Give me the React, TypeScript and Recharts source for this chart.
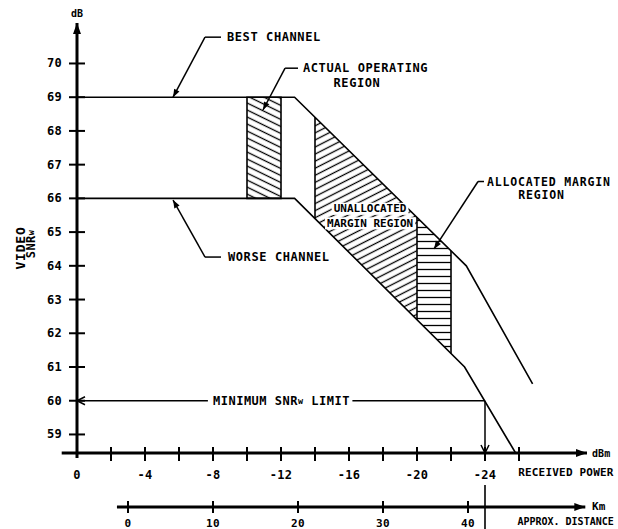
import React from 'react';
import {
  ComposedChart,
  Line,
  Area,
  XAxis,
  YAxis,
  ReferenceLine,
  ReferenceArea,
  ReferenceDot,
} from 'recharts';

// video SNRw (dB) against received power (dBm)
const bestChannel = [
  { power: 0, snr: 69 },
  { power: -12.8, snr: 69 },
  { power: -22.9, snr: 64 },
  { power: -26.8, snr: 60.5 },
];
const worseChannel = [
  { power: 0, snr: 66 },
  { power: -12.8, snr: 66 },
  { power: -22.8, snr: 61 },
  { power: -25.8, snr: 58.45 },
];
// [worse, best] at the edges of the margin regions
const unallocatedBand = [
  { power: -14, band: [65.4, 68.41] },
  { power: -20, band: [62.4, 65.44] },
];
const allocatedBand = [
  { power: -20, band: [62.4, 65.44] },
  { power: -22, band: [61.4, 64.45] },
];
const operatingRegion = { from: -10, to: -12, low: 66, high: 69 };
const minSnr = 60;
const minSnrPower = -24;

const snrTicks = [59, 60, 61, 62, 63, 64, 65, 66, 67, 68, 69, 70];
const powerTicks = [0, -2, -4, -6, -8, -10, -12, -14, -16, -18, -20, -22, -24, -26];
const powerLabels = [0, -4, -8, -12, -16, -20, -24];
const kmTicks = [0, 10, 20, 30, 40];
const distanceMarks = kmTicks.map((km) => ({ km }));

const SNR_DOMAIN = [58.45, 71.2];
const POWER_DOMAIN = [-30, 0];
const KM_DOMAIN = [-6, 54];

const INK = '#000';
const FONT = '"DejaVu Sans Mono", "Liberation Mono", monospace';

const font = (size: number, spacing = 0) => ({
  fontFamily: FONT,
  fontWeight: 700,
  fontSize: size,
  letterSpacing: spacing,
  fill: INK,
});

type Head = 'none' | 'solid' | 'open';

function arrowHead(x: number, y: number, fx: number, fy: number, kind: Head, len: number, half: number) {
  const a = Math.atan2(y - fy, x - fx);
  const bx = x - len * Math.cos(a);
  const by = y - len * Math.sin(a);
  const px = -Math.sin(a) * half;
  const py = Math.cos(a) * half;
  const pts = `${bx + px},${by + py} ${x},${y} ${bx - px},${by - py}`;
  return kind === 'open' ? (
    <polyline points={pts} fill="none" stroke={INK} strokeWidth={1.5} />
  ) : (
    <polygon points={pts} fill={INK} />
  );
}

const arrowLine =
  (width: number, end: Head = 'none', start: Head = 'none', len = 9, half = 3.5) =>
  (p: any) => (
    <g>
      <line x1={p.x1} y1={p.y1} x2={p.x2} y2={p.y2} stroke={INK} strokeWidth={width} />
      {end !== 'none' && arrowHead(p.x2, p.y2, p.x1, p.y1, end, len, half)}
      {start !== 'none' && arrowHead(p.x1, p.y1, p.x2, p.y2, start, len, half)}
    </g>
  );

// "SNRw" gets a small w
function withSub(text: string) {
  const parts = text.split('SNRw');
  const out: React.ReactNode[] = [parts[0]];
  for (let i = 1; i < parts.length; i++) {
    out.push('SNR', <tspan key={i} fontSize="0.7em">w</tspan>, parts[i]);
  }
  return out;
}

const note =
  (text: string, anchor: 'start' | 'middle' | 'end' = 'start', size = 12, spacing = 0.6, boxed = false) =>
  (p: any) => {
    const w = text.length * (size * 0.602 + spacing) + 4;
    const left = anchor === 'start' ? p.cx - 2 : anchor === 'middle' ? p.cx - w / 2 : p.cx - w + 2;
    return (
      <g>
        {boxed && <rect x={left} y={p.cy - size * 0.55} width={w} height={size * 1.1} fill="#fff" />}
        <text x={p.cx} y={p.cy} textAnchor={anchor} dominantBaseline="central" {...font(size, spacing)}>
          {withSub(text)}
        </text>
      </g>
    );
  };

function SnrTick({ x, y, payload }: any) {
  return (
    <g>
      <line x1={x - 8} x2={x + 8} y1={y} y2={y} stroke={INK} strokeWidth={2} />
      <text x={x - 15} y={y} textAnchor="end" dominantBaseline="central" {...font(12, 0.3)}>
        {payload.value}
      </text>
    </g>
  );
}

function PowerTick({ x, y, payload }: any) {
  const v = payload.value;
  return (
    <g>
      {v !== 0 && <line x1={x} x2={x} y1={y - 6} y2={y + 8} stroke={INK} strokeWidth={2} />}
      {powerLabels.includes(v) && (
        <text x={x} y={y + 22} textAnchor="middle" dominantBaseline="central" {...font(12, 0.3)}>
          {v === 0 ? '0' : `-${-v}`}
        </text>
      )}
    </g>
  );
}

function KmTick({ x, y, payload }: any) {
  return (
    <g>
      <line x1={x} x2={x} y1={y - 6} y2={y + 6} stroke={INK} strokeWidth={2} />
      <text x={x} y={y + 16} textAnchor="middle" dominantBaseline="central" {...font(11, 0.3)}>
        {payload.value}
      </text>
    </g>
  );
}

function AxisTitle({ viewBox }: any) {
  const { x, y } = viewBox;
  return (
    <g>
      <text transform={`translate(${x + 20},${y + 225}) rotate(-90)`} textAnchor="middle" dominantBaseline="central" {...font(13, 0.8)}>
        VIDEO
      </text>
      <text transform={`translate(${x + 31},${y + 221}) rotate(-90)`} textAnchor="middle" dominantBaseline="central" {...font(12, 0.4)}>
        {withSub('SNRw')}
      </text>
    </g>
  );
}

export default function App() {
  return (
    <div style={{ position: 'absolute', left: 0, top: 0, width: 618, height: 529, background: '#fff' }}>
      <ComposedChart
        width={618}
        height={529}
        data={distanceMarks}
        margin={{ top: 23, right: 31, bottom: 0, left: 0 }}
      >
        <defs>
          <pattern id="hatchDown" patternUnits="userSpaceOnUse" width={10} height={6.3} patternTransform="rotate(26)">
            <line x1={0} y1={3.15} x2={10} y2={3.15} stroke={INK} strokeWidth={1.3} />
          </pattern>
          <pattern id="hatchUp" patternUnits="userSpaceOnUse" width={10} height={6.3} patternTransform="rotate(-27)">
            <line x1={0} y1={3.15} x2={10} y2={3.15} stroke={INK} strokeWidth={1.3} />
          </pattern>
          <pattern id="hatchFlat" patternUnits="userSpaceOnUse" width={10} height={7}>
            <line x1={0} y1={3.5} x2={10} y2={3.5} stroke={INK} strokeWidth={1.3} />
          </pattern>
        </defs>

        <XAxis
          dataKey="power"
          type="number"
          domain={POWER_DOMAIN}
          reversed
          allowDataOverflow
          ticks={powerTicks}
          interval={0}
          tick={<PowerTick />}
          tickLine={false}
          axisLine={false}
          tickSize={0}
          tickMargin={0}
          height={54}
        />
        <XAxis
          xAxisId="km"
          dataKey="km"
          type="number"
          domain={KM_DOMAIN}
          allowDataOverflow
          ticks={kmTicks}
          interval={0}
          tick={<KmTick />}
          tickLine={false}
          axisLine={false}
          tickSize={0}
          tickMargin={0}
          height={22}
        />
        <YAxis
          type="number"
          domain={SNR_DOMAIN}
          allowDataOverflow
          ticks={snrTicks}
          interval={0}
          tick={<SnrTick />}
          tickLine={false}
          axisLine={false}
          tickSize={0}
          tickMargin={0}
          width={77}
          label={<AxisTitle />}
        />

        {/* hatched regions */}
        <ReferenceArea
          x1={operatingRegion.from}
          x2={operatingRegion.to}
          y1={operatingRegion.low}
          y2={operatingRegion.high}
          fill="url(#hatchDown)"
          fillOpacity={1}
          stroke={INK}
          strokeWidth={1.6}
        />
        <Area data={unallocatedBand} dataKey="band" type="linear" stroke="none" fill="url(#hatchUp)" fillOpacity={1} dot={false} activeDot={false} isAnimationActive={false} />
        <Area data={allocatedBand} dataKey="band" type="linear" stroke="none" fill="url(#hatchFlat)" fillOpacity={1} dot={false} activeDot={false} isAnimationActive={false} />
        {[...unallocatedBand, allocatedBand[1]].map((d) => (
          <ReferenceLine
            key={d.power}
            segment={[{ x: d.power, y: d.band[0] }, { x: d.power, y: d.band[1] }]}
            shape={arrowLine(1.6)}
          />
        ))}

        <Line data={bestChannel} dataKey="snr" type="linear" stroke={INK} strokeWidth={1.6} dot={false} activeDot={false} isAnimationActive={false} />
        <Line data={worseChannel} dataKey="snr" type="linear" stroke={INK} strokeWidth={1.6} dot={false} activeDot={false} isAnimationActive={false} />

        {/* axes with arrow tips */}
        <ReferenceLine segment={[{ x: 0, y: 58.3 }, { x: 0, y: 71.2 }]} ifOverflow="visible" shape={arrowLine(3, 'solid', 'none', 11, 4)} />
        <ReferenceLine segment={[{ x: 0.9, y: 58.45 }, { x: -30, y: 58.45 }]} ifOverflow="visible" shape={arrowLine(3, 'solid', 'none', 11, 4)} />
        <ReferenceLine xAxisId="km" segment={[{ x: -1.3, y: 56.85 }, { x: 53.8, y: 56.85 }]} ifOverflow="visible" shape={arrowLine(3, 'solid', 'none', 11, 4)} />
        <ReferenceLine segment={[{ x: minSnrPower, y: 57.5 }, { x: minSnrPower, y: 56.15 }]} ifOverflow="visible" shape={arrowLine(1.6)} />

        <ReferenceDot x={0} y={71.47} r={0} ifOverflow="visible" shape={note('dB', 'middle', 10, 0)} />
        <ReferenceDot x={-30.3} y={58.45} r={0} ifOverflow="visible" shape={note('dBm', 'start', 10, 0)} />
        <ReferenceDot x={-28.76} y={57.86} r={0} ifOverflow="visible" shape={note('RECEIVED POWER', 'middle', 11, 0.2)} />
        <ReferenceDot x={-30.3} y={56.85} r={0} ifOverflow="visible" shape={note('Km', 'start', 11, 0)} />
        <ReferenceDot x={-28.74} y={56.405} r={0} ifOverflow="visible" shape={note('APPROX. DISTANCE', 'middle', 10, 0)} />

        {/* minimum SNR limit */}
        <ReferenceLine segment={[{ x: 0, y: minSnr }, { x: -7.7, y: minSnr }]} shape={arrowLine(1.5, 'none', 'open', 8, 4)} />
        <ReferenceDot x={-8.0} y={minSnr} r={0} ifOverflow="visible" shape={note('MINIMUM SNRw LIMIT', 'start', 12, 0.5)} />
        <ReferenceLine segment={[{ x: -16.2, y: minSnr }, { x: minSnrPower, y: minSnr }]} shape={arrowLine(1.5)} />
        <ReferenceLine segment={[{ x: minSnrPower, y: minSnr }, { x: minSnrPower, y: 58.45 }]} shape={arrowLine(1.5, 'open', 'none', 8, 4)} />

        {/* callouts */}
        <ReferenceLine segment={[{ x: -7.53, y: 70.78 }, { x: -8.47, y: 70.78 }]} ifOverflow="visible" shape={arrowLine(1.5)} />
        <ReferenceLine segment={[{ x: -7.53, y: 70.78 }, { x: -5.65, y: 69.0 }]} ifOverflow="visible" shape={arrowLine(1.5, 'solid', 'none', 8, 3)} />
        <ReferenceDot x={-8.82} y={70.78} r={0} ifOverflow="visible" shape={note('BEST CHANNEL')} />

        <ReferenceLine segment={[{ x: -12.24, y: 69.86 }, { x: -13.0, y: 69.86 }]} shape={arrowLine(1.5)} />
        <ReferenceLine segment={[{ x: -12.24, y: 69.86 }, { x: -10.94, y: 68.62 }]} shape={arrowLine(1.5, 'solid', 'none', 8, 3)} />
        <ReferenceDot x={-13.29} y={69.86} r={0} ifOverflow="visible" shape={note('ACTUAL OPERATING')} />
        <ReferenceDot x={-16.47} y={69.42} r={0} ifOverflow="visible" shape={note('REGION', 'middle')} />

        <ReferenceLine segment={[{ x: -7.53, y: 64.26 }, { x: -8.47, y: 64.26 }]} shape={arrowLine(1.5)} />
        <ReferenceLine segment={[{ x: -7.53, y: 64.26 }, { x: -5.65, y: 65.95 }]} shape={arrowLine(1.5, 'solid', 'none', 8, 3)} />
        <ReferenceDot x={-8.88} y={64.26} r={0} ifOverflow="visible" shape={note('WORSE CHANNEL')} />

        <ReferenceDot x={-17.24} y={65.69} r={0} ifOverflow="visible" shape={note('UNALLOCATED', 'middle', 11, 0, true)} />
        <ReferenceDot x={-17.24} y={65.26} r={0} ifOverflow="visible" shape={note('MARGIN REGION', 'middle', 11, 0, true)} />

        <ReferenceLine segment={[{ x: -23.59, y: 66.5 }, { x: -23.94, y: 66.5 }]} shape={arrowLine(1.5)} />
        <ReferenceLine segment={[{ x: -23.59, y: 66.5 }, { x: -21.0, y: 64.5 }]} shape={arrowLine(1.5, 'solid', 'none', 8, 3)} />
        <ReferenceDot x={-24.12} y={66.5} r={0} ifOverflow="visible" shape={note('ALLOCATED MARGIN', 'start', 11.5, 0.8)} />
        <ReferenceDot x={-27.32} y={66.1} r={0} ifOverflow="visible" shape={note('REGION', 'middle', 11.5, 0.8)} />
      </ComposedChart>
    </div>
  );
}
